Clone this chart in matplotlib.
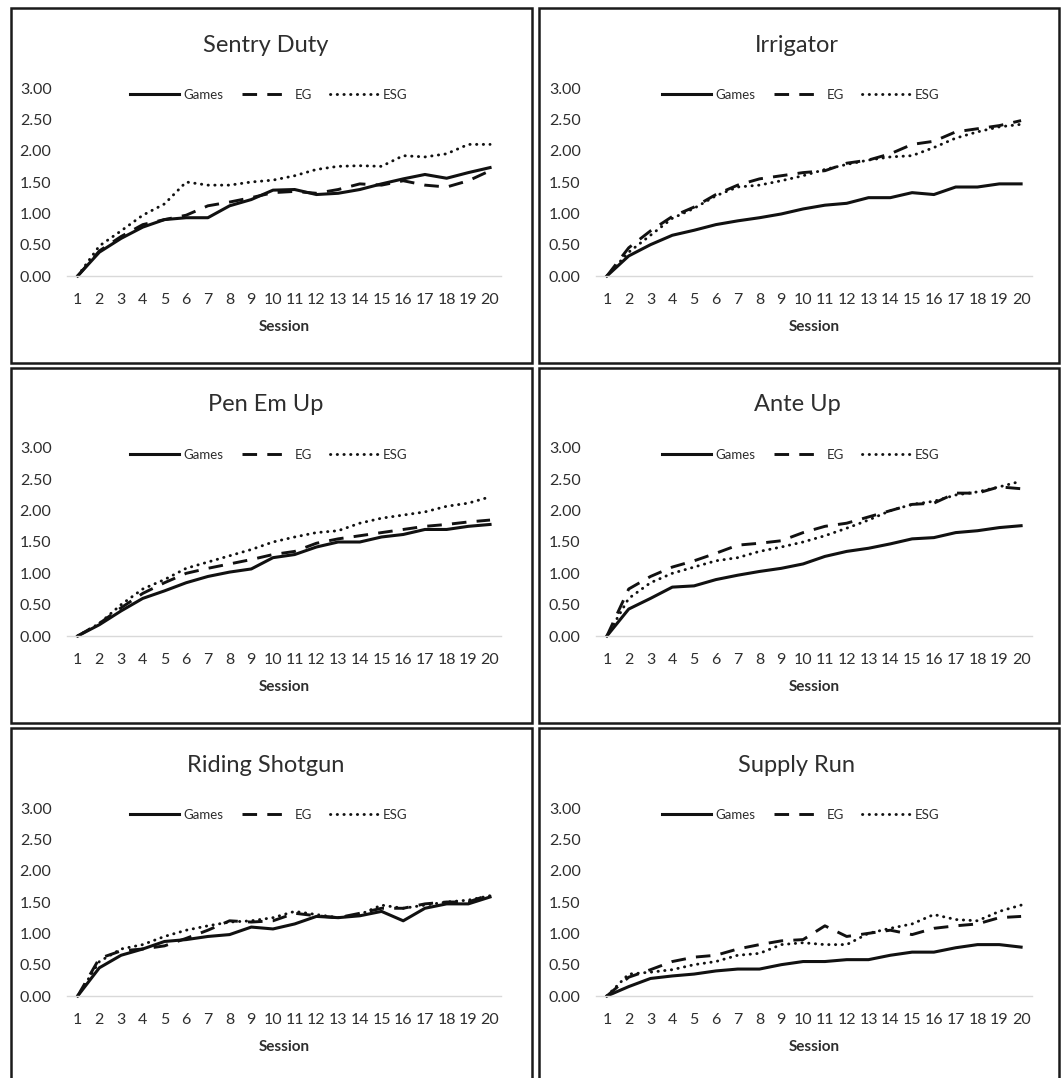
import matplotlib
matplotlib.use("Agg")
import matplotlib.pyplot as plt
from matplotlib.patches import Rectangle

plt.rcParams['font.family'] = ['Lato', 'DejaVu Sans']

sessions = list(range(1, 21))
titles = ["Sentry Duty", "Irrigator", "Pen Em Up", "Ante Up", "Riding Shotgun", "Supply Run"]
series_names = ["Games", "EG", "ESG"]

sentry_games = [0, 0.38, 0.60, 0.78, 0.90, 0.93, 0.93, 1.12, 1.22, 1.37, 1.38, 1.30, 1.32, 1.38, 1.47, 1.55, 1.62, 1.56, 1.65, 1.73]
sentry_eg    = [0, 0.40, 0.63, 0.82, 0.90, 0.97, 1.12, 1.18, 1.25, 1.33, 1.35, 1.32, 1.38, 1.47, 1.45, 1.52, 1.45, 1.42, 1.52, 1.68]
sentry_esg   = [0, 0.48, 0.72, 0.97, 1.15, 1.50, 1.45, 1.45, 1.50, 1.53, 1.60, 1.70, 1.75, 1.76, 1.75, 1.92, 1.90, 1.95, 2.10, 2.10]

irrig_games = [0, 0.32, 0.50, 0.65, 0.73, 0.82, 0.88, 0.93, 0.99, 1.07, 1.13, 1.16, 1.25, 1.25, 1.33, 1.30, 1.42, 1.42, 1.47, 1.47]
irrig_eg    = [0, 0.45, 0.72, 0.95, 1.10, 1.30, 1.45, 1.55, 1.60, 1.65, 1.68, 1.80, 1.85, 1.95, 2.10, 2.15, 2.30, 2.35, 2.40, 2.48]
irrig_esg   = [0, 0.38, 0.65, 0.92, 1.08, 1.28, 1.42, 1.45, 1.52, 1.60, 1.70, 1.78, 1.85, 1.90, 1.92, 2.05, 2.20, 2.30, 2.38, 2.42]

pen_games = [0, 0.18, 0.40, 0.60, 0.72, 0.85, 0.95, 1.02, 1.07, 1.25, 1.30, 1.42, 1.50, 1.50, 1.58, 1.62, 1.70, 1.70, 1.75, 1.78]
pen_eg    = [0, 0.20, 0.45, 0.68, 0.85, 1.00, 1.08, 1.15, 1.22, 1.30, 1.35, 1.48, 1.55, 1.60, 1.65, 1.70, 1.75, 1.78, 1.82, 1.85]
pen_esg   = [0, 0.20, 0.50, 0.75, 0.90, 1.08, 1.18, 1.28, 1.38, 1.50, 1.58, 1.65, 1.68, 1.80, 1.88, 1.93, 1.98, 2.07, 2.12, 2.22]

ante_games = [0, 0.43, 0.60, 0.78, 0.80, 0.90, 0.97, 1.03, 1.08, 1.15, 1.27, 1.35, 1.40, 1.47, 1.55, 1.57, 1.65, 1.68, 1.73, 1.76]
ante_eg    = [0, 0.75, 0.95, 1.10, 1.20, 1.32, 1.45, 1.48, 1.52, 1.65, 1.75, 1.80, 1.90, 2.00, 2.10, 2.12, 2.28, 2.28, 2.38, 2.35]
ante_esg   = [0, 0.60, 0.85, 1.00, 1.10, 1.20, 1.25, 1.35, 1.42, 1.50, 1.60, 1.72, 1.85, 2.00, 2.10, 2.15, 2.25, 2.30, 2.38, 2.47]

ride_games = [0, 0.45, 0.65, 0.75, 0.87, 0.90, 0.95, 0.98, 1.10, 1.07, 1.15, 1.27, 1.25, 1.28, 1.35, 1.20, 1.40, 1.47, 1.47, 1.58]
ride_eg    = [0, 0.60, 0.72, 0.75, 0.80, 0.92, 1.05, 1.20, 1.18, 1.20, 1.32, 1.28, 1.25, 1.32, 1.40, 1.40, 1.47, 1.50, 1.50, 1.62]
ride_esg   = [0, 0.55, 0.75, 0.82, 0.95, 1.05, 1.12, 1.18, 1.20, 1.25, 1.35, 1.30, 1.25, 1.30, 1.45, 1.40, 1.45, 1.50, 1.53, 1.60]

supply_games = [0, 0.15, 0.28, 0.32, 0.35, 0.40, 0.43, 0.43, 0.50, 0.55, 0.55, 0.58, 0.58, 0.65, 0.70, 0.70, 0.77, 0.82, 0.82, 0.78]
supply_eg    = [0, 0.30, 0.42, 0.55, 0.62, 0.65, 0.75, 0.82, 0.88, 0.90, 1.12, 0.95, 1.00, 1.05, 0.98, 1.08, 1.12, 1.15, 1.25, 1.27]
supply_esg   = [0, 0.35, 0.38, 0.42, 0.50, 0.55, 0.65, 0.68, 0.82, 0.85, 0.82, 0.82, 1.00, 1.08, 1.15, 1.30, 1.22, 1.20, 1.35, 1.45]

panel_data = [
    (sentry_games, sentry_eg, sentry_esg),
    (irrig_games, irrig_eg, irrig_esg),
    (pen_games, pen_eg, pen_esg),
    (ante_games, ante_eg, ante_esg),
    (ride_games, ride_eg, ride_esg),
    (supply_games, supply_eg, supply_esg),
]

W, H = 1061, 1078
fig = plt.figure(figsize=(W / 100, H / 100), dpi=100)
fig.patch.set_facecolor('white')

def fx(px):
    return px / W

def fy(py):
    return 1 - py / H

col_box = [(11, 532), (539, 1059)]
col_axes = [(66.8, 500.9), (596, 1032)]
title_cx = [266, 797]
legend_cx = [269, 801]
row_top = [8, 368, 728]
box_h = 355

line_color = '#111111'
text_color = '#2e2e2e'

styles = [
    dict(linestyle='-', linewidth=2.2),
    dict(linestyle=(0, (5, 3.5)), linewidth=2.1),
    dict(linestyle=(0, (0.1, 2.2)), linewidth=2.1, dash_capstyle='round'),
]

for i, (title, data) in enumerate(zip(titles, panel_data)):
    r, c = divmod(i, 2)
    top = row_top[r]
    bx0, bx1 = col_box[c]
    fig.add_artist(Rectangle((fx(bx0), fy(top + box_h)), fx(bx1 - bx0), box_h / H,
                             transform=fig.transFigure, fill=False, lw=1.8, ec='#1a1a1a'))
    ax0, ax1 = col_axes[c]
    y_zero = top + 268
    y_three = top + 80
    ax = fig.add_axes([fx(ax0), fy(y_zero), fx(ax1 - ax0), (y_zero - y_three) / H])
    ax.set_facecolor('none')
    handles = []
    for name, vals, st in zip(series_names, data, styles):
        ln, = ax.plot(sessions, vals, color=line_color, clip_on=False, label=name, **st)
        handles.append(ln)
    ax.set_xlim(0.5, 20.5)
    ax.set_ylim(0, 3.0)
    ax.set_xticks(sessions)
    ax.set_xticklabels([str(s) for s in sessions])
    yt = [0, 0.5, 1.0, 1.5, 2.0, 2.5, 3.0]
    ax.set_yticks(yt)
    ax.set_yticklabels(["%.2f" % v for v in yt])
    for s in ['top', 'right', 'left']:
        ax.spines[s].set_visible(False)
    ax.spines['bottom'].set_color('#d9d9d9')
    ax.spines['bottom'].set_linewidth(1.0)
    ax.tick_params(axis='both', length=0, labelsize=11.5, labelcolor=text_color)
    ax.tick_params(axis='y', pad=11)
    ax.tick_params(axis='x', pad=12)
    fig.text(fx(title_cx[c]), fy(top + 37), title, ha='center', va='center',
             fontsize=17, color=text_color)
    fig.text(fx((ax0 + ax1) / 2), fy(top + 319), "Session", ha='center', va='center',
             fontsize=11, fontweight='bold', color=text_color)
    fig.legend(handles=handles, labels=series_names, loc='center',
               bbox_to_anchor=(fx(legend_cx[c]), fy(top + 87)),
               bbox_transform=fig.transFigure, ncol=3, frameon=False,
               fontsize=9.5, handlelength=3.7, handletextpad=0.3, columnspacing=1.4,
               labelcolor=text_color, borderpad=0)

fig.savefig("out.png", dpi=100, facecolor='white')
